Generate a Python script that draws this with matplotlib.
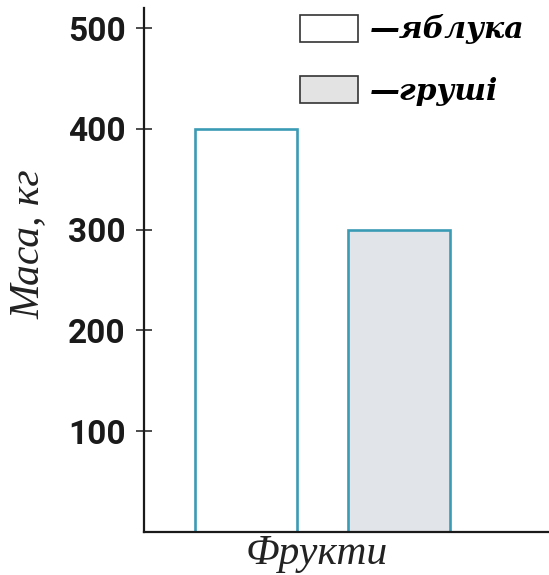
import matplotlib
matplotlib.use("Agg")
import matplotlib.pyplot as plt
from matplotlib.patches import Patch

categories = ["яблука", "груші"]
values = [400, 300]
yticks = [100, 200, 300, 400, 500]
legend_labels = ["\u2014яблука", "\u2014груші"]

W, H = 549, 575
fig = plt.figure(figsize=(W / 100, H / 100), dpi=100)
fig.patch.set_facecolor("white")

ax = fig.add_axes([144 / W, (H - 532) / H, (W - 144) / W, (532 - 8) / H])

fills = ["white", "#e1e4e8"]
edge = "#3a9bb5"
x = [0, 1]
ax.bar(x, values, width=0.667, color=fills, edgecolor=edge, linewidth=1.9)

ax.set_xlim(-0.667, 1.98)
ax.set_ylim(0, 520)
ax.set_xticks([])
ax.set_yticks(yticks)
ax.set_yticklabels([str(v) for v in yticks], fontfamily="Roboto",
                   fontweight="bold", fontsize=24)
ax.tick_params(axis="y", direction="inout", length=11.5, width=1.1, pad=7.5,
               colors="#1a1a1a")
for s in ["top", "right"]:
    ax.spines[s].set_visible(False)
for s in ["left", "bottom"]:
    ax.spines[s].set_linewidth(1.6)
    ax.spines[s].set_color("#1a1a1a")

fig.text(28 / W, 1 - 244 / H, "Маса, кг", rotation=90, ha="center", va="center",
         fontfamily="Liberation Serif", fontstyle="italic", fontsize=30, color="#222")
fig.text(317 / W, 1 - 554 / H, "Фрукти", ha="center", va="center",
         fontfamily="Liberation Serif", fontstyle="italic", fontsize=30, color="#222")

handles = [Patch(facecolor=fills[0], edgecolor="#333333", linewidth=1.2),
           Patch(facecolor="#e3e3e3", edgecolor="#333333", linewidth=1.2)]
ax.legend(handles, legend_labels, loc="upper left",
          bbox_to_anchor=(300 / W, 1 - 14.5 / H), bbox_transform=fig.transFigure,
          frameon=False, borderpad=0, borderaxespad=0,
          handlelength=1.95, handleheight=1.02, handletextpad=0.4,
          labelspacing=1.05,
          prop=dict(family="DejaVu Serif", weight="bold", style="italic", size=21.5))

fig.savefig("out.png", dpi=100, facecolor="white")
